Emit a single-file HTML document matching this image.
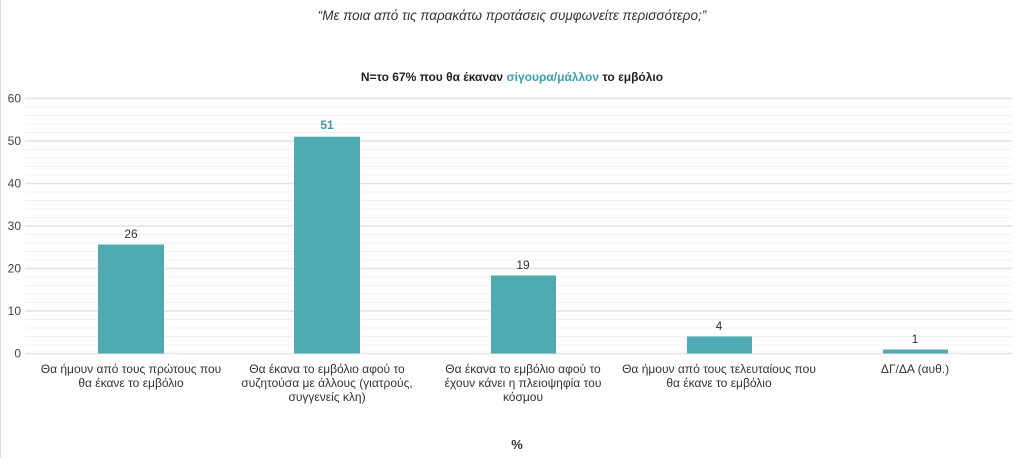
<!DOCTYPE html>
<html><head><meta charset="utf-8"><style>
body{margin:0;width:1024px;height:458px;background:#fff;overflow:hidden;font-family:"Liberation Sans",sans-serif;}
</style></head><body>
<svg width="1024" height="458" xmlns="http://www.w3.org/2000/svg" font-family="Liberation Sans, sans-serif">
<line x1="0.5" y1="0" x2="0.5" y2="458" stroke="#ddd"/>
<text x="512" y="20" text-anchor="middle" font-size="13.5" font-style="italic" fill="#333">“Με ποια από τις παρακάτω προτάσεις συμφωνείτε περισσότερο;”</text>
<text x="512" y="81" text-anchor="middle" font-size="12" font-weight="bold" fill="#222">Ν=το 67% που θα έκαναν <tspan fill="#3aa3ab">σίγουρα/μάλλον</tspan> το εμβόλιο</text>
<g stroke="#f0f0f0" stroke-width="1">
<line x1="25" x2="1012" y1="107" y2="107"/><line x1="25" x2="1012" y1="115.5" y2="115.5"/><line x1="25" x2="1012" y1="124" y2="124"/><line x1="25" x2="1012" y1="132.5" y2="132.5"/>
<line x1="25" x2="1012" y1="149.5" y2="149.5"/><line x1="25" x2="1012" y1="158" y2="158"/><line x1="25" x2="1012" y1="166.5" y2="166.5"/><line x1="25" x2="1012" y1="175" y2="175"/>
<line x1="25" x2="1012" y1="192" y2="192"/><line x1="25" x2="1012" y1="200.5" y2="200.5"/><line x1="25" x2="1012" y1="209" y2="209"/><line x1="25" x2="1012" y1="217.5" y2="217.5"/>
<line x1="25" x2="1012" y1="234.5" y2="234.5"/><line x1="25" x2="1012" y1="243" y2="243"/><line x1="25" x2="1012" y1="251.5" y2="251.5"/><line x1="25" x2="1012" y1="260" y2="260"/>
<line x1="25" x2="1012" y1="277" y2="277"/><line x1="25" x2="1012" y1="285.5" y2="285.5"/><line x1="25" x2="1012" y1="294" y2="294"/><line x1="25" x2="1012" y1="302.5" y2="302.5"/>
<line x1="25" x2="1012" y1="319.5" y2="319.5"/><line x1="25" x2="1012" y1="328" y2="328"/><line x1="25" x2="1012" y1="336.5" y2="336.5"/><line x1="25" x2="1012" y1="345" y2="345"/>
</g>
<g stroke="#e2e2e2" stroke-width="1.5">
<line x1="25" x2="1012" y1="98.5" y2="98.5"/><line x1="25" x2="1012" y1="141" y2="141"/><line x1="25" x2="1012" y1="183.5" y2="183.5"/><line x1="25" x2="1012" y1="226" y2="226"/><line x1="25" x2="1012" y1="268.5" y2="268.5"/><line x1="25" x2="1012" y1="311" y2="311"/><line x1="25" x2="1012" y1="353.5" y2="353.5"/>
</g>
<g font-size="12" fill="#444" text-anchor="end">
<text x="21" y="102.5">60</text><text x="21" y="145">50</text><text x="21" y="187.5">40</text><text x="21" y="230">30</text><text x="21" y="272.5">20</text><text x="21" y="315">10</text><text x="21" y="357.5">0</text>
</g>
<g fill="#4eabb1">
<rect x="98" y="244.5" width="66" height="109"/>
<rect x="294" y="136.7" width="66" height="216.8"/>
<rect x="491" y="275.5" width="65" height="78"/>
<rect x="687" y="336.5" width="65" height="17"/>
<rect x="883" y="349.5" width="65" height="4"/>
</g>
<g font-size="12" fill="#333" text-anchor="middle">
<text x="131" y="238">26</text>
<text x="327" y="129" font-weight="bold" fill="#3a9aa2">51</text>
<text x="523" y="269">19</text>
<text x="719" y="330">4</text>
<text x="915" y="343">1</text>
</g>
<g font-size="12" fill="#333" text-anchor="middle">
<text x="131" y="373">Θα ήμουν από τους πρώτους που</text><text x="131" y="387">θα έκανε το εμβόλιο</text>
<text x="327" y="373">Θα έκανα το εμβόλιο αφού το</text><text x="327" y="387">συζητούσα με άλλους (γιατρούς,</text><text x="327" y="401">συγγενείς κλη)</text>
<text x="523" y="373">Θα έκανα το εμβόλιο αφού το</text><text x="523" y="387">έχουν κάνει η πλειοψηφία του</text><text x="523" y="401">κόσμου</text>
<text x="719" y="373">Θα ήμουν από τους τελευταίους που</text><text x="719" y="387">θα έκανε το εμβόλιο</text>
<text x="915" y="373">ΔΓ/ΔΑ (αυθ.)</text>
</g>
<text x="517" y="449" text-anchor="middle" font-size="13" font-weight="bold" fill="#333">%</text>
</svg>
</body></html>
